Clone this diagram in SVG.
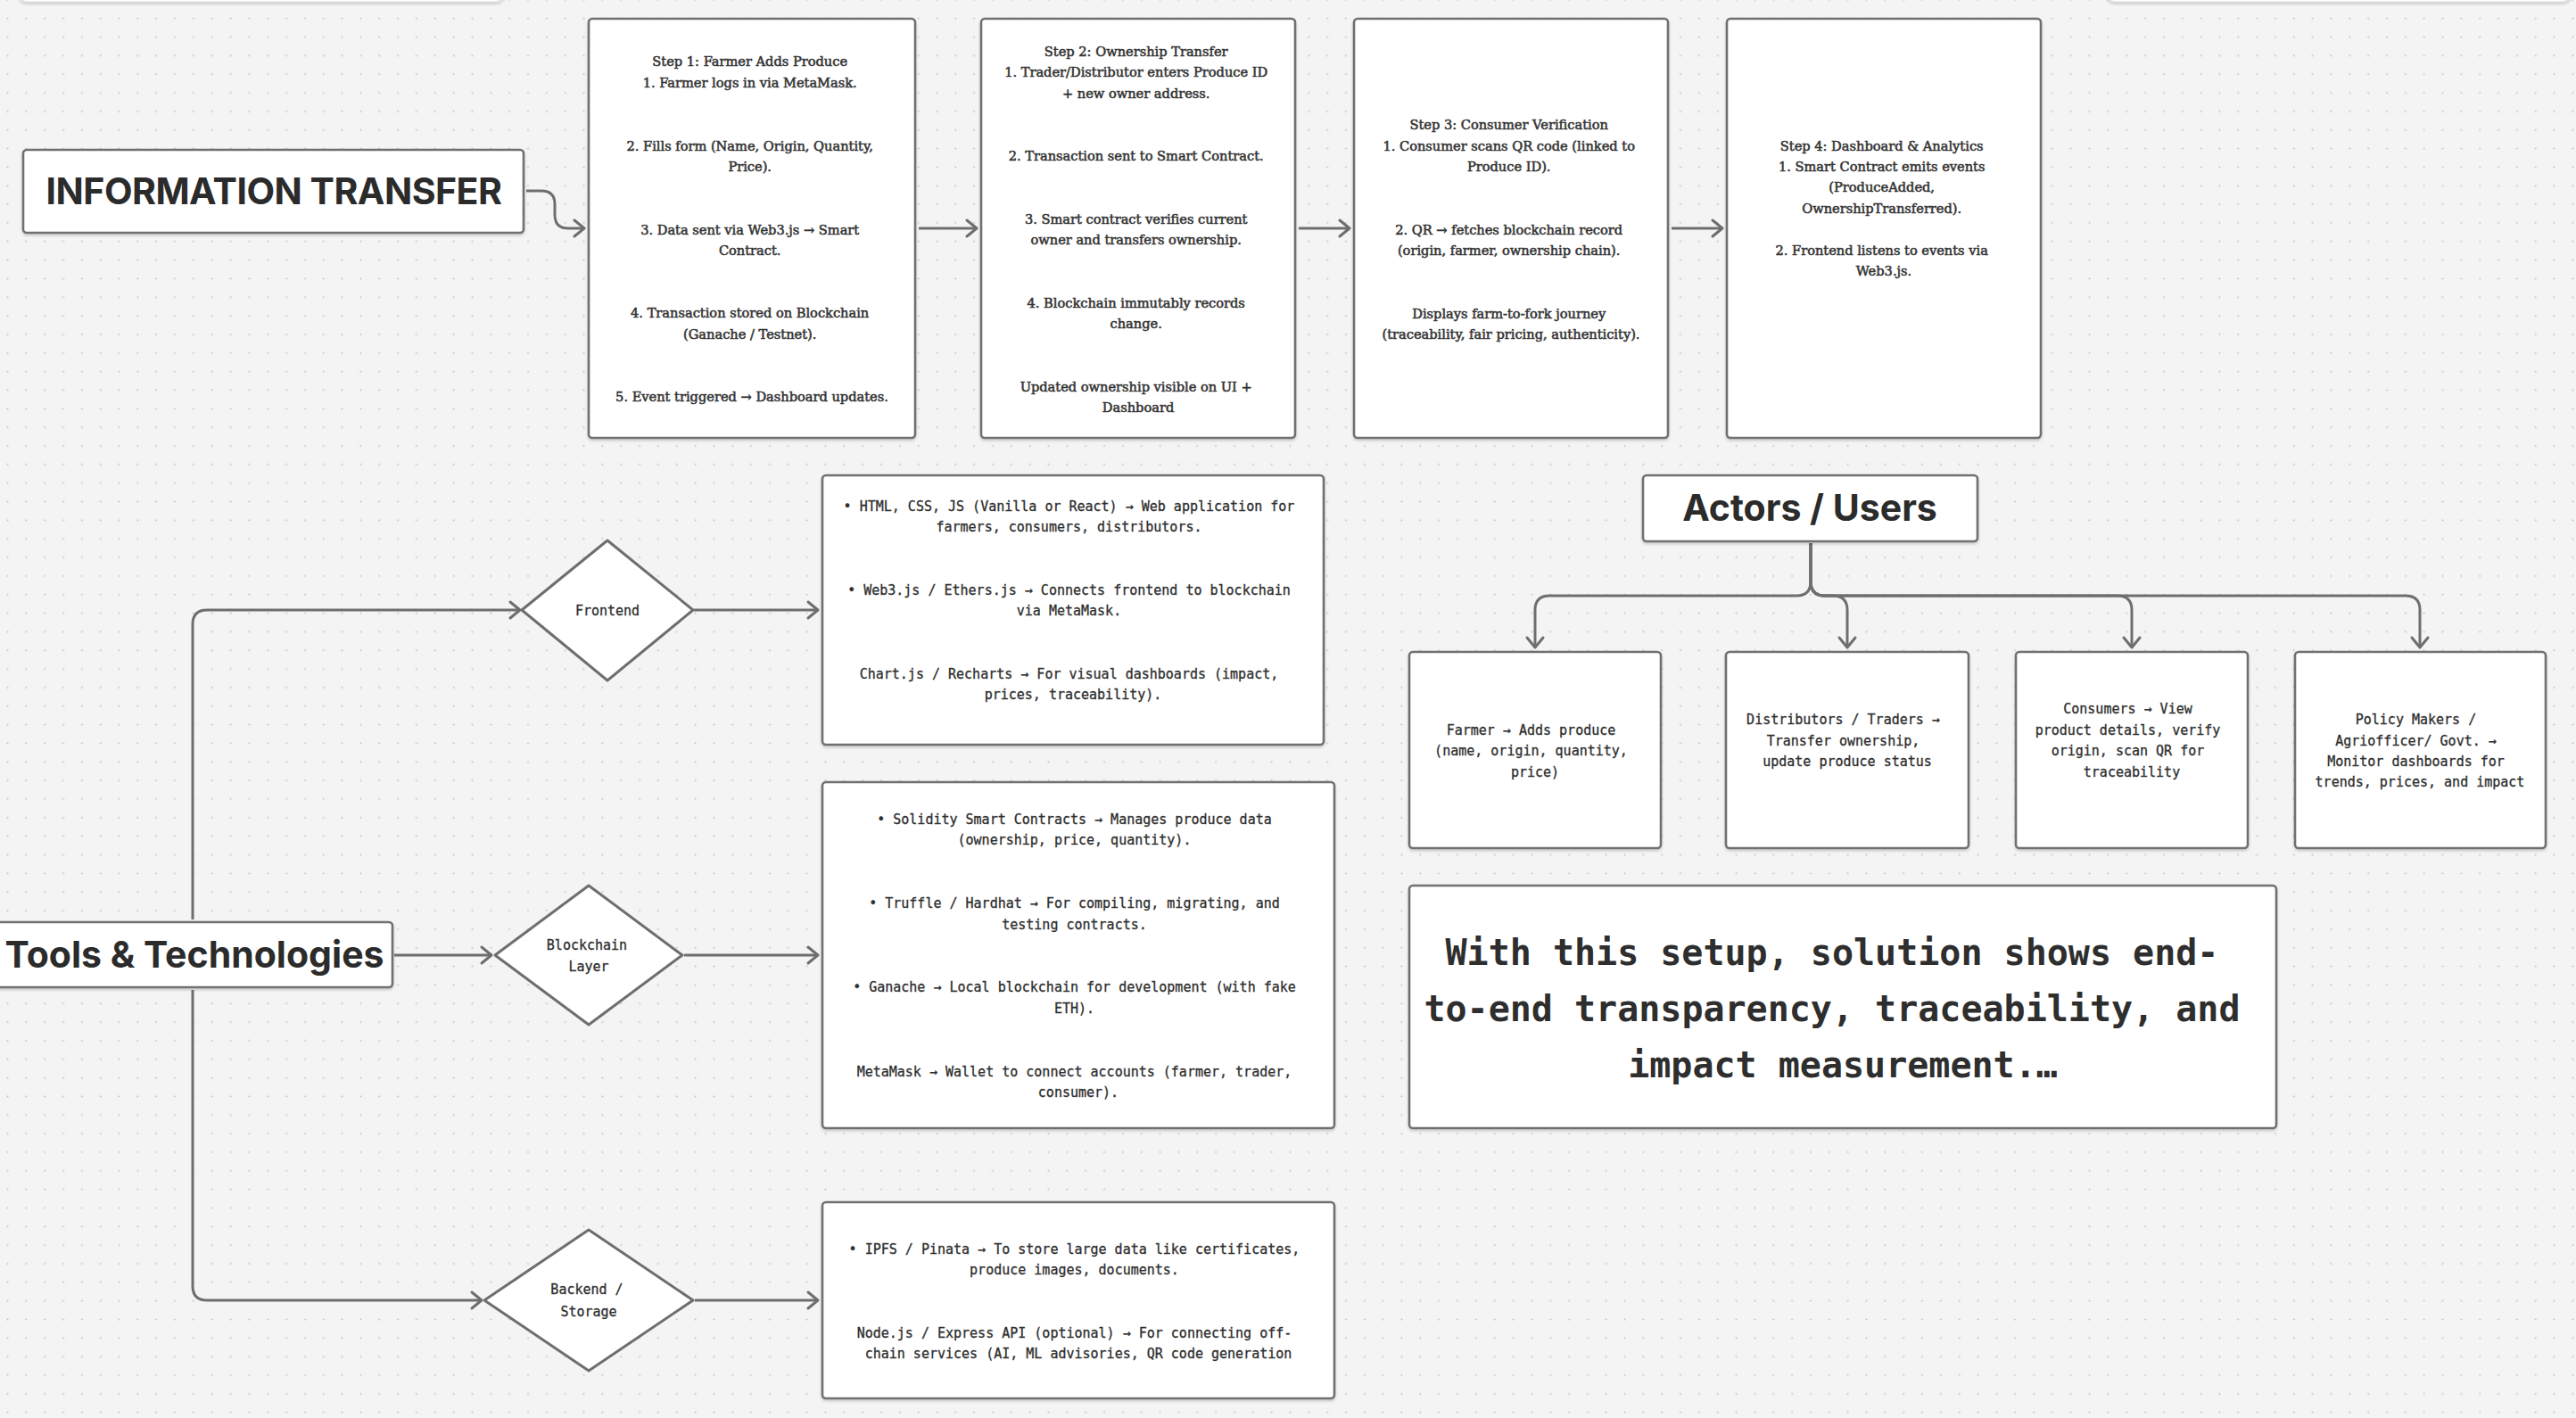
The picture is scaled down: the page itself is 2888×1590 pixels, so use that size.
<svg xmlns="http://www.w3.org/2000/svg" width="2888" height="1590" viewBox="0 0 2888 1590">
<defs>
<pattern id="dots" x="7" y="19.2" width="20.84" height="20.84" patternUnits="userSpaceOnUse">
<circle cx="1.5" cy="1.5" r="1.1" fill="#c6c6c6"/>
</pattern>
<filter id="sh" x="-5%" y="-5%" width="110%" height="115%">
<feDropShadow dx="0" dy="2" stdDeviation="1.5" flood-color="#000" flood-opacity="0.18"/>
</filter>
<marker id="arr" viewBox="-14 -12 17 24" refX="0" refY="0" markerWidth="17" markerHeight="24" markerUnits="userSpaceOnUse" orient="auto">
<path d="M-11,-9 L0,0 L-11,9" fill="none" stroke="#6e6e6e" stroke-width="3" stroke-linecap="round" stroke-linejoin="round"/>
</marker>
<style>
.box{fill:#fff;stroke:#707070;stroke-width:2.6;filter:url(#sh)}
.dia{fill:#fff;stroke:#6e6e6e;stroke-width:3;stroke-linejoin:round}
.ghost{fill:#fff;stroke:#e2e2e2;stroke-width:1.5;filter:url(#sh)}
.con{fill:none;stroke:#6e6e6e;stroke-width:3;marker-end:url(#arr)}
.title{font-family:Inter,"Liberation Sans",sans-serif;font-weight:700;font-size:41px;fill:#2b2b2b;text-anchor:middle}
.serif{font-family:"DejaVu Serif","Liberation Serif",serif;font-size:14.6px;fill:#333;stroke:#333;stroke-width:0.55;text-anchor:middle}
.mono{font-family:"DejaVu Sans Mono","Liberation Mono",monospace;font-size:15px;fill:#2e2e2e;stroke:#2e2e2e;stroke-width:0.3;text-anchor:middle}
.big{font-family:"DejaVu Sans Mono","Liberation Mono",monospace;font-size:40px;font-weight:700;fill:#2e2e2e;text-anchor:middle}
</style>
</defs>
<rect x="0" y="0" width="2888" height="1590" fill="#f4f4f4"/>
<rect x="0" y="0" width="2888" height="1590" fill="url(#dots)"/>

<rect class="ghost" x="21" y="-40" width="544" height="42" rx="9"/>
<rect class="ghost" x="2362" y="-40" width="520" height="42" rx="9"/>

<g id="connectors">
<path class="con" d="M590,214 H607 Q622,214 622,229 V241 Q622,256 637,256 H655"/>
<path class="con" d="M1030,256 H1095"/>
<path class="con" d="M1456,256 H1513"/>
<path class="con" d="M1874,256 H1931"/>
<path class="con" d="M216,1031 V700 Q216,684 232,684 H583"/>
<path class="con" d="M442,1071 H551"/>
<path class="con" d="M216,1110 V1442 Q216,1458 232,1458 H540"/>
<path class="con" d="M778,684 H917"/>
<path class="con" d="M767,1071 H917"/>
<path class="con" d="M779,1458 H917"/>
<path class="con" d="M2030,609 V652 Q2030,668 2014,668 H1737 Q1721,668 1721,684 V726"/>
<path class="con" d="M2030,609 V652 Q2030,668 2046,668 H2055 Q2071,668 2071,684 V726"/>
<path class="con" d="M2030,609 V652 Q2030,668 2046,668 H2374 Q2390,668 2390,684 V726"/>
<path class="con" d="M2030,609 V652 Q2030,668 2046,668 H2697 Q2713,668 2713,684 V726"/>
</g>

<g id="info-transfer">
<rect class="box" x="26" y="168" width="561" height="93" rx="4"/>
<text class="title" x="307" y="229" font-size="39.5" letter-spacing="-0.5">INFORMATION TRANSFER</text>
</g>

<g id="step1">
<rect class="box" x="660" y="21" width="366" height="470" rx="4"/>
<text class="serif">
<tspan x="843" y="74">Step 1: Farmer Adds Produce</tspan>
<tspan x="843" y="98">1. Farmer logs in via MetaMask.</tspan>
<tspan x="843" y="169">2. Fills form (Name, Origin, Quantity,</tspan>
<tspan x="843" y="192">Price).</tspan>
<tspan x="843" y="263">3. Data sent via Web3.js → Smart</tspan>
<tspan x="843" y="286">Contract.</tspan>
<tspan x="843" y="356">4. Transaction stored on Blockchain</tspan>
<tspan x="843" y="380">(Ganache / Testnet).</tspan>
<tspan x="843" y="450">5. Event triggered → Dashboard updates.</tspan>
</text>
</g>

<g id="step2">
<rect class="box" x="1100" y="21" width="352" height="470" rx="4"/>
<text class="serif">
<tspan x="1276" y="63">Step 2: Ownership Transfer</tspan>
<tspan x="1276" y="86">1. Trader/Distributor enters Produce ID</tspan>
<tspan x="1276" y="110">+ new owner address.</tspan>
<tspan x="1276" y="180">2. Transaction sent to Smart Contract.</tspan>
<tspan x="1276" y="251">3. Smart contract verifies current</tspan>
<tspan x="1276" y="274">owner and transfers ownership.</tspan>
<tspan x="1276" y="345">4. Blockchain immutably records</tspan>
<tspan x="1276" y="368">change.</tspan>
<tspan x="1276" y="439">Updated ownership visible on UI +</tspan>
<tspan x="1276" y="462">Dashboard</tspan>
</text>
</g>

<g id="step3">
<rect class="box" x="1518" y="21" width="352" height="470" rx="4"/>
<text class="serif">
<tspan x="1694" y="145">Step 3: Consumer Verification</tspan>
<tspan x="1694" y="169">1. Consumer scans QR code (linked to</tspan>
<tspan x="1694" y="192">Produce ID).</tspan>
<tspan x="1694" y="263">2. QR → fetches blockchain record</tspan>
<tspan x="1694" y="286">(origin, farmer, ownership chain).</tspan>
<tspan x="1694" y="357">Displays farm-to-fork journey</tspan>
<tspan x="1694" y="380">(traceability, fair pricing, authenticity).</tspan>
</text>
</g>

<g id="step4">
<rect class="box" x="1936" y="21" width="352" height="470" rx="4"/>
<text class="serif">
<tspan x="2112" y="169">Step 4: Dashboard &amp; Analytics</tspan>
<tspan x="2112" y="192">1. Smart Contract emits events</tspan>
<tspan x="2112" y="215">(ProduceAdded,</tspan>
<tspan x="2112" y="239">OwnershipTransferred).</tspan>
<tspan x="2112" y="286">2. Frontend listens to events via</tspan>
<tspan x="2112" y="309">Web3.js.</tspan>
</text>
</g>

<g id="tools">
<rect class="box" x="-10" y="1034" width="450" height="73" rx="4"/>
<text class="title" x="218" y="1085">Tools &amp; Technologies</text>
</g>

<g id="frontend">
<polygon class="dia" points="681,606 777,684 681,763 585,684"/>
<text class="mono" x="681" y="690">Frontend</text>
</g>

<g id="blockchain-layer">
<polygon class="dia" points="660,993 765,1071 660,1149 555,1071"/>
<text class="mono"><tspan x="658" y="1065">Blockchain</tspan><tspan x="660" y="1089">Layer</tspan></text>
</g>

<g id="backend-storage">
<polygon class="dia" points="660,1379 777,1458 660,1537 543,1458"/>
<text class="mono"><tspan x="658" y="1451">Backend /</tspan><tspan x="660" y="1476">Storage</tspan></text>
</g>

<g id="frontend-tools">
<rect class="box" x="922" y="533" width="562" height="302" rx="4"/>
<text class="mono">
<tspan x="1203" y="573">• HTML, CSS, JS (Vanilla or React) → Web application for</tspan>
<tspan x="1203" y="596">farmers, consumers, distributors.</tspan>
<tspan x="1203" y="667">• Web3.js / Ethers.js → Connects frontend to blockchain</tspan>
<tspan x="1203" y="690">via MetaMask.</tspan>
<tspan x="1203" y="761">Chart.js / Recharts → For visual dashboards (impact,</tspan>
<tspan x="1203" y="784">prices, traceability).</tspan>
</text>
</g>

<g id="blockchain-tools">
<rect class="box" x="922" y="877" width="574" height="388" rx="4"/>
<text class="mono">
<tspan x="1209" y="924">• Solidity Smart Contracts → Manages produce data</tspan>
<tspan x="1209" y="947">(ownership, price, quantity).</tspan>
<tspan x="1209" y="1018">• Truffle / Hardhat → For compiling, migrating, and</tspan>
<tspan x="1209" y="1042">testing contracts.</tspan>
<tspan x="1209" y="1112">• Ganache → Local blockchain for development (with fake</tspan>
<tspan x="1209" y="1136">ETH).</tspan>
<tspan x="1209" y="1207">MetaMask → Wallet to connect accounts (farmer, trader,</tspan>
<tspan x="1209" y="1230">consumer).</tspan>
</text>
</g>

<g id="backend-tools">
<rect class="box" x="922" y="1348" width="574" height="220" rx="4"/>
<text class="mono">
<tspan x="1209" y="1406">• IPFS / Pinata → To store large data like certificates,</tspan>
<tspan x="1209" y="1429">produce images, documents.</tspan>
<tspan x="1209" y="1500">Node.js / Express API (optional) → For connecting off-</tspan>
<tspan x="1209" y="1523">chain services (AI, ML advisories, QR code generation</tspan>
</text>
</g>

<g id="actors">
<rect class="box" x="1842" y="533" width="375" height="74" rx="4"/>
<text class="title" x="2029" y="584" font-size="41">Actors / Users</text>
</g>

<g id="farmer">
<rect class="box" x="1580" y="731" width="282" height="220" rx="4"/>
<text class="mono">
<tspan x="1721" y="824">Farmer → Adds produce</tspan>
<tspan x="1721" y="847">(name, origin, quantity,</tspan>
<tspan x="1721" y="871">price)</tspan>
</text>
</g>

<g id="distributors">
<rect class="box" x="1935" y="731" width="272" height="220" rx="4"/>
<text class="mono">
<tspan x="2071" y="812">Distributors / Traders →</tspan>
<tspan x="2071" y="836">Transfer ownership,</tspan>
<tspan x="2071" y="859">update produce status</tspan>
</text>
</g>

<g id="consumers">
<rect class="box" x="2260" y="731" width="260" height="220" rx="4"/>
<text class="mono">
<tspan x="2390" y="800">Consumers → View</tspan>
<tspan x="2390" y="824">product details, verify</tspan>
<tspan x="2390" y="847">origin, scan QR for</tspan>
<tspan x="2390" y="871">traceability</tspan>
</text>
</g>

<g id="policy-makers">
<rect class="box" x="2573" y="731" width="281" height="220" rx="4"/>
<text class="mono">
<tspan x="2713" y="812">Policy Makers /</tspan>
<tspan x="2713" y="836">Agriofficer/ Govt. →</tspan>
<tspan x="2713" y="859">Monitor dashboards for</tspan>
<tspan x="2713" y="882">trends, prices, and impact</tspan>
</text>
</g>

<g id="summary">
<rect class="box" x="1580" y="993" width="972" height="272" rx="4"/>
<text class="big">
<tspan x="2066" y="1082">With this setup, solution shows end-</tspan>
<tspan x="2066" y="1145">to-end transparency, traceability, and</tspan>
<tspan x="2066" y="1208">impact measurement.…</tspan>
</text>
</g>
</svg>
